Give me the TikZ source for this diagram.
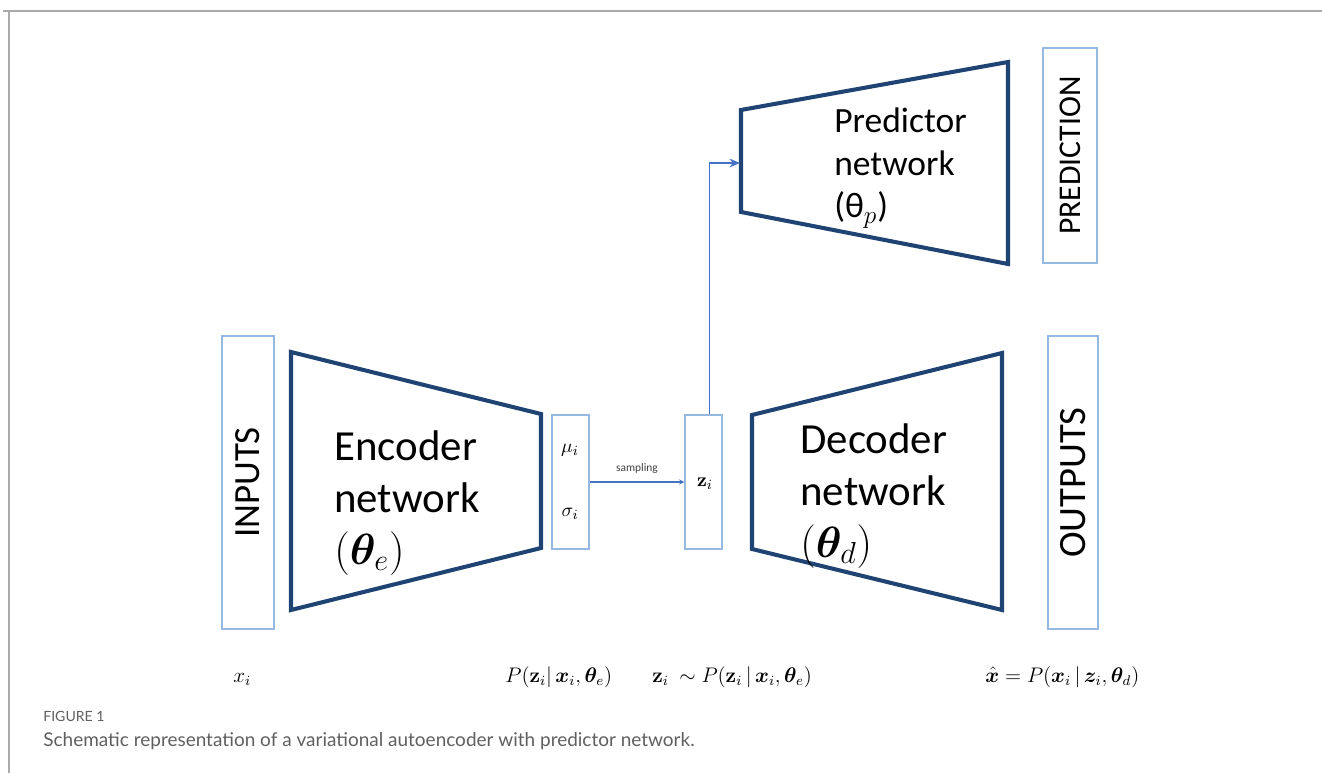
\documentclass[tikz,border=0pt]{standalone}
\usepackage{amsmath,amssymb,bm}
\usepackage[no-math]{fontspec}
\setmainfont{Carlito}
\newfontfamily\capfont{Lato}
\usetikzlibrary{arrows.meta,positioning,calc}

\definecolor{navy}{RGB}{31,68,115}
\definecolor{paleblue}{RGB}{150,185,225}
\definecolor{linkblue}{RGB}{68,114,196}
\definecolor{framegray}{RGB}{170,170,170}
\definecolor{capgray}{RGB}{95,95,95}

\begin{document}
\begin{tikzpicture}[x=0.02cm, y=-0.02cm, >=Latex,
  net/.style={draw=navy, line width=2.3pt, line join=miter},
  nettext/.style={align=left, anchor=west, inner sep=0pt, font=\fontsize{24.4}{29.5}\selectfont},
  predtext/.style={align=left, anchor=west, inner sep=0pt, font=\fontsize{20.2}{24.4}\selectfont},
  iobox/.style={draw=paleblue, line width=0.8pt, rotate=90, inner sep=0pt},
  latent/.style={draw=paleblue, line width=0.8pt, minimum width=0.74cm, minimum height=2.68cm, inner sep=0pt},
  link/.style={draw=linkblue, line width=0.8pt},
  formula/.style={anchor=base west, inner sep=0pt, font=\fontsize{11.5}{14}\selectfont}]
\useasboundingbox (0,0) rectangle (1322,773);
% frame of the figure
\draw[framegray, line width=1pt] (3,11) -- (1322,11);
\draw[framegray, line width=0.6pt] (9,11) -- (9,773);

% input / output columns
\node[iobox, minimum width=5.86cm, minimum height=1.04cm, font=\fontsize{21}{24}\selectfont] (inputs) at (248,482.5) {INPUTS};
\node[iobox, minimum width=5.86cm, minimum height=1.0cm, font=\fontsize{22}{24}\selectfont] (outputs) at (1073,482.5) {OUTPUTS};
\node[iobox, minimum width=4.3cm, minimum height=1.08cm, font=\fontsize{18}{20}\selectfont] (prediction) at (1070,155.5) {PREDICTION};

% networks
\draw[net] (291,352) -- (541,414) -- (541,548) -- (291,610) -- cycle;
\node[nettext] (enc) at (334,503) {Encoder\\network\\$(\bm{\theta}_{e})$};
\draw[net] (752,415) -- (1002,353) -- (1002,610) -- (752,549) -- cycle;
\node[nettext] (dec) at (800,496) {Decoder\\network\\$(\bm{\theta}_{d})$};
\draw[net] (741,110) -- (1008,62) -- (1008,264) -- (741,212) -- cycle;
\coordinate (predin) at (740,163);
\node[predtext] (pred) at (834,168) {Predictor\\network\\(θ$_{p}$)};

% latent layer
\node[latent] (musig) at (570.5,482) {};
\node[font=\fontsize{11}{13}\selectfont] (mu) at (570,450) {$\mu_{i}$};
\node[font=\fontsize{11}{13}\selectfont] (sigma) at (570,514) {$\sigma_{i}$};
\node[latent] (zbox) at (703.5,482) {};
\node[font=\fontsize{11}{13}\selectfont] (zi) at (705,484) {$\mathbf{z}_{i}$};

\draw[link, -{Stealth[length=3pt,width=3pt]}] (musig.east) -- node[above, font=\fontsize{6.5}{8}\selectfont, text=black!75, yshift=1pt]{sampling} (zbox.west);
\draw[link, -{Stealth[length=6pt,width=5pt]}] ([xshift=3.5]zbox.north) |- (predin);

% formulas under the diagram
\node[formula] (fx) at (233,682) {$x_{i}$};
\node[formula] (fenc) at (505,682) {$P(\mathbf{z}_{i}|\,\bm{x}_{i},\bm{\theta}_{e})$};
\node[formula] (fz) at (652,682) {$\mathbf{z}_{i}\ \sim P(\mathbf{z}_{i}\,|\,\bm{x}_{i},\bm{\theta}_{e})$};
\node[formula] (fdec) at (985,682) {$\hat{\bm{x}} = P(\bm{x}_{i}\,|\,\bm{z}_{i},\bm{\theta}_{d})$};

% caption
\node[anchor=base west, inner sep=0pt, text=capgray, font=\capfont\fontsize{8}{10}\selectfont] (figno) at (43,721) {FIGURE 1};
\node[anchor=base west, inner sep=0pt, text=capgray, font=\capfont\fontsize{10.8}{12}\selectfont] (caption) at (43,746) {Schematic representation of a variational autoencoder with predictor network.};
\end{tikzpicture}
\end{document}
